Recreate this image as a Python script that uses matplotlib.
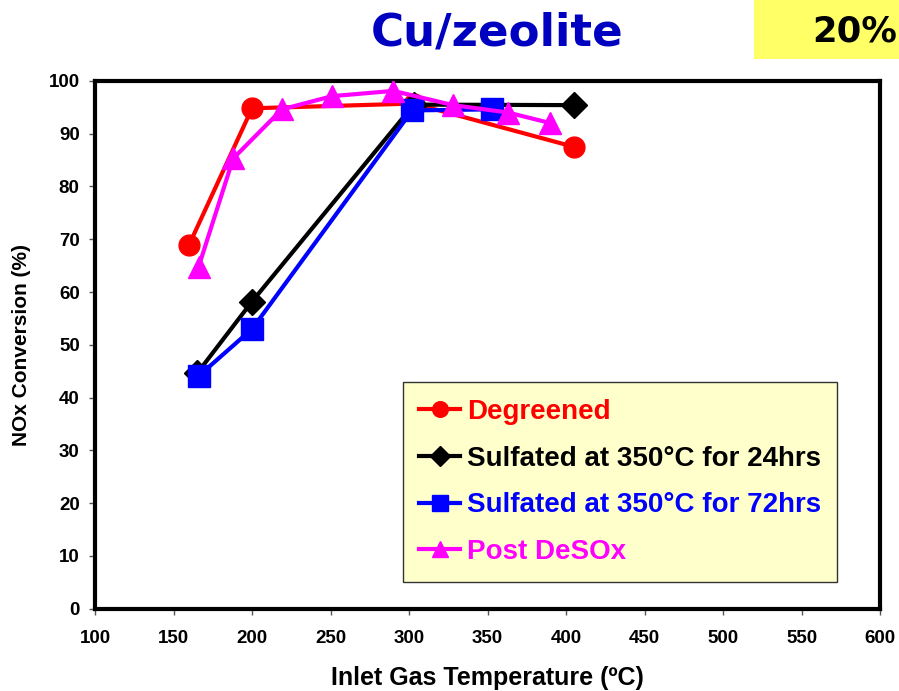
import matplotlib
matplotlib.use("Agg")
import matplotlib.pyplot as plt
from matplotlib.patches import Rectangle

# dados
temp_degreened = [160, 200, 303, 405]
nox_degreened = [69.0, 94.8, 95.7, 87.5]

temp_sulf24 = [165, 200, 303, 405]
nox_sulf24 = [44.6, 58.2, 95.5, 95.4]

temp_sulf72 = [166, 200, 302, 353]
nox_sulf72 = [44.1, 53.0, 94.4, 94.6]

temp_desox = [166, 188, 219, 251, 290, 328, 363, 390]
nox_desox = [64.8, 85.3, 94.6, 97.1, 98.1, 95.4, 94.0, 92.0]

xticks = [100, 150, 200, 250, 300, 350, 400, 450, 500, 550, 600]
yticks = [0, 10, 20, 30, 40, 50, 60, 70, 80, 90, 100]

plt.rcParams['font.family'] = ['Liberation Sans', 'DejaVu Sans']
plt.rcParams['font.weight'] = 'bold'

fig = plt.figure(figsize=(8.99, 6.91), dpi=100)
ax = fig.add_axes([0.1057, 0.119, 0.8733, 0.764])

ax.plot(temp_degreened, nox_degreened, color='#ff0000', lw=3, marker='o', ms=15,
        label='Degreened', zorder=3)
ax.plot(temp_sulf24, nox_sulf24, color='black', lw=3, marker='D', ms=13,
        label='Sulfated at 350°C for 24hrs', zorder=4)
ax.plot(temp_sulf72, nox_sulf72, color='#0000ff', lw=3, marker='s', ms=16,
        label='Sulfated at 350°C for 72hrs', zorder=5)
ax.plot(temp_desox, nox_desox, color='#ff00ff', lw=3, marker='^', ms=16,
        label='Post DeSOx', zorder=6)

ax.set_xlim(100, 600)
ax.set_ylim(0, 100)
ax.set_xticks(xticks)
ax.set_yticks(yticks)
ax.tick_params(axis='both', direction='out', length=4, width=1, color='#555555',
               labelsize=13.5)
ax.tick_params(axis='x', pad=11)
ax.tick_params(axis='y', pad=7)
for lab in ax.get_xticklabels() + ax.get_yticklabels():
    lab.set_fontweight('bold')
for s in ax.spines.values():
    s.set_linewidth(3)
    s.set_color('black')

ax.set_xlabel('Inlet Gas Temperature (ºC)', fontsize=18, fontweight='bold', labelpad=14)
ax.set_ylabel('NOx Conversion (%)', fontsize=15, fontweight='bold', labelpad=13)

leg = ax.legend(loc='lower left', bbox_to_anchor=(0.392, 0.051), fontsize=20,
                frameon=True, fancybox=False, handlelength=1.45, handletextpad=0.25,
                labelspacing=0.75, borderpad=0.6, borderaxespad=0, markerscale=0.75)
leg.get_frame().set_facecolor('#ffffcc')
leg.get_frame().set_edgecolor('#333333')
leg.get_frame().set_linewidth(1)
leg.get_frame().set_alpha(1)
for txt, line in zip(leg.get_texts(), leg.get_lines()):
    txt.set_color(line.get_color())
    txt.set_fontweight('bold')

fig.text(0.553, 0.952, 'Cu/zeolite', family='DejaVu Sans', fontsize=32.5,
         fontweight='bold', color='#0000c0', ha='center', va='center')
fig.patches.append(Rectangle((0.839, 0.915), 0.2, 0.09, transform=fig.transFigure,
                             facecolor='#ffff66', edgecolor='none'))
fig.text(0.903, 0.955, '20%', family='DejaVu Sans', fontsize=25.5,
         fontweight='bold', color='black', ha='left', va='center')

plt.savefig('out.png', dpi=100)
